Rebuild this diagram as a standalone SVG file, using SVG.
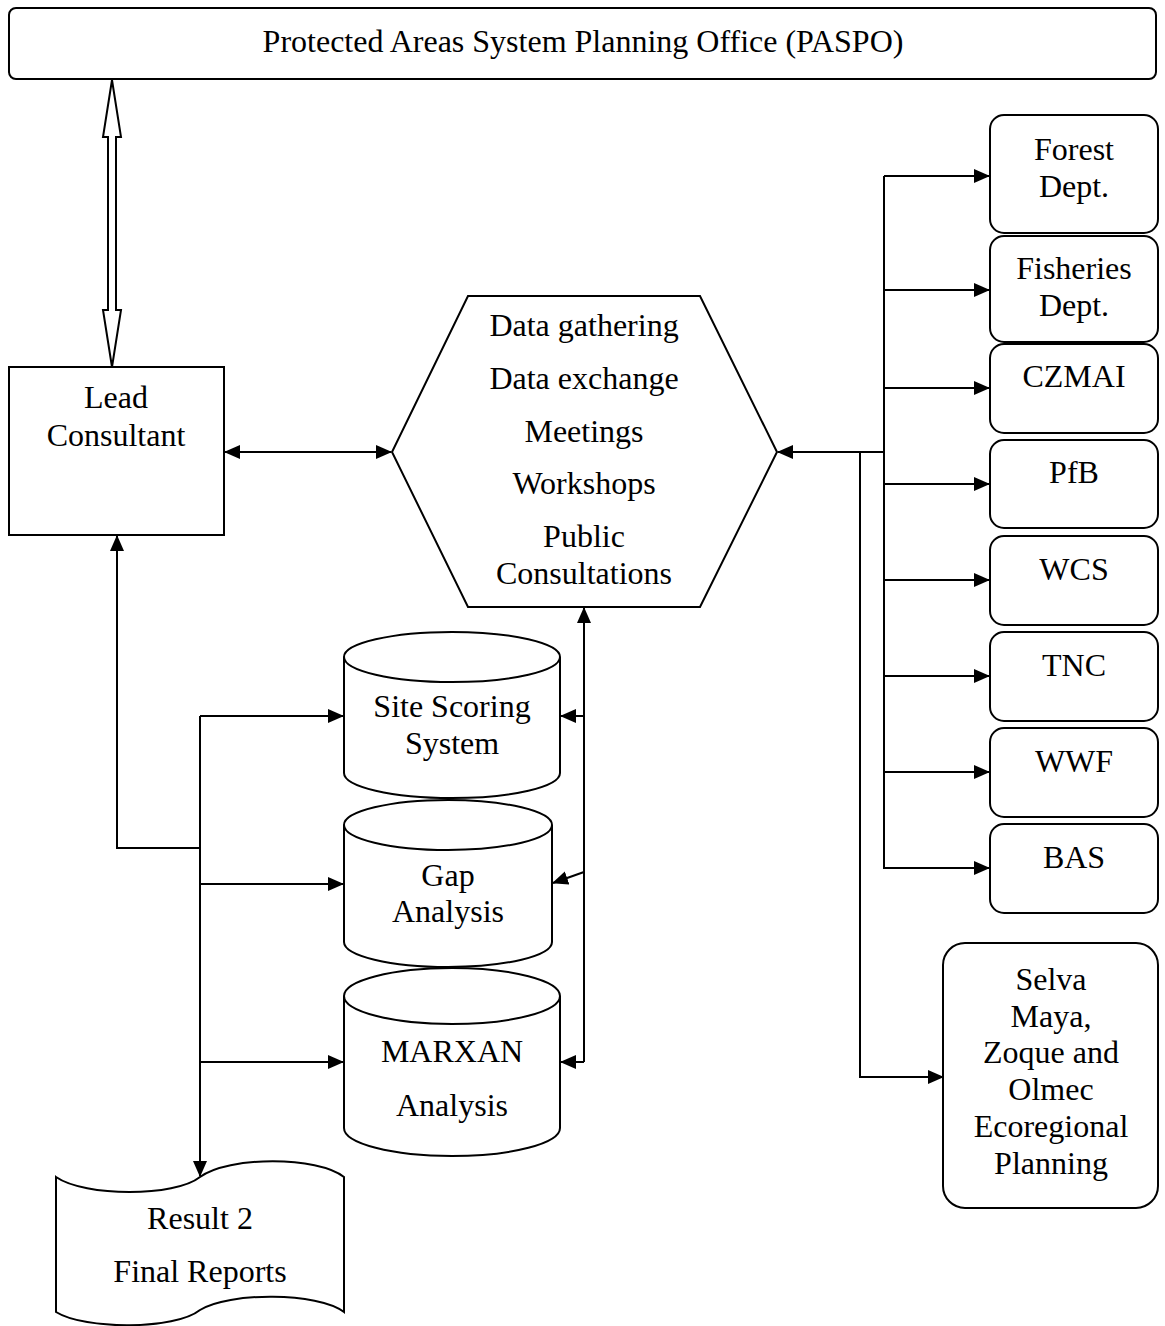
<svg xmlns="http://www.w3.org/2000/svg" width="1165" height="1326" viewBox="0 0 1165 1326">
<style>
.n{fill:#fff;stroke:#000;stroke-width:2}
.t{font-family:"Liberation Serif","Times New Roman",serif;font-size:32px;fill:#000;text-anchor:middle}
.c{fill:none;stroke:#000;stroke-width:2}
.a{marker-end:url(#ah)}
.b{marker-start:url(#ah);marker-end:url(#ah)}
</style>
<defs>
<marker id="ah" markerUnits="userSpaceOnUse" markerWidth="16" markerHeight="14" refX="15" refY="7" orient="auto-start-reverse" viewBox="0 0 16 14">
<path d="M0,0 L16,7 L0,14 z" fill="#000"/>
</marker>
</defs>
<rect width="1165" height="1326" fill="#fff"/>
<g id="connectors">
<polygon class="n" points="112,80 121,137 116,137 116,310 121,310 112,367 103,310 108,310 108,137 103,137"/>
<line class="c b" x1="225" y1="452" x2="391" y2="452"/>
<polyline class="c a" points="884,452 778,452"/>
<line class="c" x1="884" y1="176" x2="884" y2="869"/>
<line class="c a" x1="884" y1="176" x2="989" y2="176"/>
<line class="c a" x1="884" y1="290" x2="989" y2="290"/>
<line class="c a" x1="884" y1="388" x2="989" y2="388"/>
<line class="c a" x1="884" y1="484" x2="989" y2="484"/>
<line class="c a" x1="884" y1="580" x2="989" y2="580"/>
<line class="c a" x1="884" y1="676" x2="989" y2="676"/>
<line class="c a" x1="884" y1="772" x2="989" y2="772"/>
<line class="c a" x1="884" y1="868" x2="989" y2="868"/>
<polyline class="c a" points="860,452 860,1077 943,1077"/>
<polyline class="c a" points="200,848 117,848 117,536"/>
<polyline class="c a" points="200,716 200,1176"/>
<line class="c a" x1="200" y1="716" x2="343" y2="716"/>
<line class="c a" x1="200" y1="884" x2="343" y2="884"/>
<line class="c a" x1="200" y1="1062" x2="343" y2="1062"/>
<polyline class="c a" points="584,1062 584,608"/>
<line class="c a" x1="584" y1="716" x2="561" y2="716"/>
<line class="c a" x1="584" y1="872" x2="553" y2="883"/>
<line class="c a" x1="584" y1="1062" x2="561" y2="1062"/>
</g>
<g id="paspo">
<rect class="n" x="9" y="8" width="1147" height="71" rx="7"/>
<text class="t" x="583" y="52">Protected Areas System Planning Office (PASPO)</text>
</g>
<g id="lead">
<rect class="n" x="9" y="367" width="215" height="168"/>
<text class="t" x="116" y="408">Lead</text>
<text class="t" x="116" y="446">Consultant</text>
</g>
<g id="hub">
<polygon class="n" points="468,296 700,296 777,452 700,607 468,607 392,452"/>
<text class="t" x="584" y="336">Data gathering</text>
<text class="t" x="584" y="389">Data exchange</text>
<text class="t" x="584" y="442">Meetings</text>
<text class="t" x="584" y="494">Workshops</text>
<text class="t" x="584" y="547">Public</text>
<text class="t" x="584" y="584">Consultations</text>
</g>
<g id="forest">
<rect class="n" x="990" y="115" width="168" height="118" rx="14"/>
<text class="t" x="1074" y="160">Forest</text>
<text class="t" x="1074" y="197">Dept.</text>
</g>
<g id="fisheries">
<rect class="n" x="990" y="236" width="168" height="106" rx="14"/>
<text class="t" x="1074" y="279">Fisheries</text>
<text class="t" x="1074" y="316">Dept.</text>
</g>
<g id="czmai">
<rect class="n" x="990" y="344" width="168" height="89" rx="14"/>
<text class="t" x="1074" y="387">CZMAI</text>
</g>
<g id="pfb">
<rect class="n" x="990" y="440" width="168" height="88" rx="14"/>
<text class="t" x="1074" y="483">PfB</text>
</g>
<g id="wcs">
<rect class="n" x="990" y="536" width="168" height="89" rx="14"/>
<text class="t" x="1074" y="580">WCS</text>
</g>
<g id="tnc">
<rect class="n" x="990" y="632" width="168" height="89" rx="14"/>
<text class="t" x="1074" y="676">TNC</text>
</g>
<g id="wwf">
<rect class="n" x="990" y="728" width="168" height="89" rx="14"/>
<text class="t" x="1074" y="772">WWF</text>
</g>
<g id="bas">
<rect class="n" x="990" y="824" width="168" height="89" rx="14"/>
<text class="t" x="1074" y="868">BAS</text>
</g>
<g id="selva">
<rect class="n" x="943" y="943" width="215" height="265" rx="22"/>
<text class="t" x="1051" y="990">Selva</text>
<text class="t" x="1051" y="1027">Maya,</text>
<text class="t" x="1051" y="1063">Zoque and</text>
<text class="t" x="1051" y="1100">Olmec</text>
<text class="t" x="1051" y="1137">Ecoregional</text>
<text class="t" x="1051" y="1174">Planning</text>
</g>
<g id="site">
<path class="n" d="M344,657 A108,25 0 0 1 560,657 L560,773 A108,25 0 0 1 344,773 Z M344,657 A108,25 0 0 0 560,657"/>
<text class="t" x="452" y="717">Site Scoring</text>
<text class="t" x="452" y="754">System</text>
</g>
<g id="gap">
<path class="n" d="M344,825 A104,25 0 0 1 552,825 L552,942 A104,25 0 0 1 344,942 Z M344,825 A104,25 0 0 0 552,825"/>
<text class="t" x="448" y="886">Gap</text>
<text class="t" x="448" y="922">Analysis</text>
</g>
<g id="marxan">
<path class="n" d="M344,996 A108,28 0 0 1 560,996 L560,1128 A108,28 0 0 1 344,1128 Z M344,996 A108,28 0 0 0 560,996"/>
<text class="t" x="452" y="1062">MARXAN</text>
<text class="t" x="452" y="1116">Analysis</text>
</g>
<g id="result">
<path class="n" d="M56,1177 C85,1197 175,1197 200,1177 C228,1156 318,1156 344,1177 L344,1312 C318,1292 228,1292 200,1310 C175,1330 85,1330 56,1312 Z"/>
<text class="t" x="200" y="1229">Result 2</text>
<text class="t" x="200" y="1282">Final Reports</text>
</g>
</svg>
